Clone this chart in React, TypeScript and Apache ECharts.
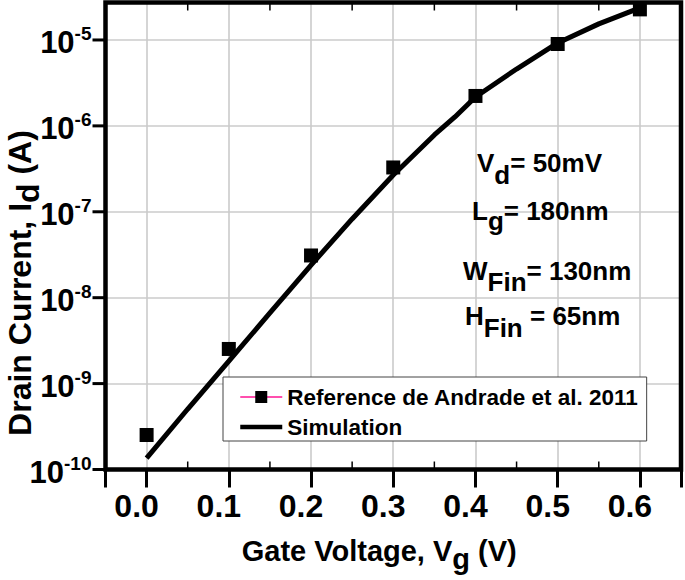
import React, { useEffect, useRef } from 'react';
import * as echarts from 'echarts';

// Reference data (de Andrade et al. 2011)
const vgRef = [0.0, 0.1, 0.2, 0.3, 0.4, 0.5, 0.6];
const idRef = [2.52e-10, 2.53e-9, 3.1e-8, 3.28e-7, 2.23e-6, 8.97e-6, 2.27e-5];

// Simulation curve
const vgSim = [0, 0.05, 0.1, 0.15, 0.2, 0.25, 0.3, 0.35, 0.375, 0.4, 0.45, 0.5, 0.55, 0.6];
const idSim = [1.36e-10, 5.06e-10, 1.83e-9, 6.64e-9, 2.4e-8, 8.25e-8, 2.68e-7, 7.84e-7, 1.27e-6, 2.17e-6, 4.59e-6, 9.23e-6, 1.54e-5, 2.36e-5];

// Tick labels / tick positions
const xTickLabels = ['0.0', '0.1', '0.2', '0.3', '0.4', '0.5', '0.6'];
const yTickExponents = [-10, -9, -8, -7, -6, -5];
const yMajorTicks = [1e-10, 1e-9, 1e-8, 1e-7, 1e-6, 1e-5];
const xMinorTicks = [0.05, 0.15, 0.25, 0.35, 0.45, 0.55];

// Series names
const REF_NAME = 'Reference de Andrade et al. 2011';
const SIM_NAME = 'Simulation';

// Annotation texts
const annMain = ['V', 'L', 'W', 'H'];
const annSub = ['d', 'g', 'Fin', 'Fin'];
const annRest = ['= 50mV', '= 180nm', '= 130nm', ' = 65nm'];

const FONT = '"Liberation Sans", Arial, Helvetica, sans-serif';

export default function App() {
  const ref = useRef<HTMLDivElement>(null);
  useEffect(() => {
    const chart = echarts.init(ref.current as HTMLDivElement, null, { renderer: 'svg' });

    const G_LEFT = 105.5;
    const G_RIGHT = 4;
    const G_TOP = 2.5;
    const G_BOTTOM = 110.5;
    const W = 685;
    const H = 580;

    const annX = [477, 472, 463, 465];
    const annY = [150, 198, 258, 303];
    const annShift = [12, 10, 11, 12];

    const X_MIN = -0.05;
    const X_MAX = 0.65;
    const Y_MIN = 1e-10;
    const Y_MAX = 2.73e-5;

    const xFmt = (v: number) => {
      const idx = Math.round(v * 10);
      if (Math.abs(v * 10 - idx) > 1e-6 || idx < 0 || idx >= xTickLabels.length) return '';
      return xTickLabels[idx];
    };
    const yFmt = (v: number) => {
      const e = Math.log10(v);
      const r = Math.round(e);
      if (Math.abs(e - r) > 1e-6 || yTickExponents.indexOf(r) < 0) return '';
      return '{b|10}{s|' + r + '}';
    };

    const gridLineStyle = { color: '#cbcbcb', width: 1.6, type: 'solid' };

    const option: any = {
      animation: false,
      textStyle: { fontFamily: FONT },
      grid: {
        show: false,
        containLabel: false,
        outerBoundsMode: 'none',
        left: G_LEFT,
        right: G_RIGHT,
        top: G_TOP,
        bottom: G_BOTTOM,
      },
      xAxis: {
        type: 'value',
        min: X_MIN,
        max: X_MAX,
        splitNumber: 7,
        position: 'bottom',
        axisLine: { show: false },
        axisTick: { show: true, length: 18, lineStyle: { color: '#000', width: 3 } },
        axisLabel: {
          margin: 20,
          fontSize: 32,
          fontWeight: 'bold',
          fontFamily: FONT,
          color: '#000',
          padding: [0, 20, 0, 0],
          formatter: xFmt,
        },
        splitLine: { show: true, lineStyle: gridLineStyle },
        name: '{t|Gate Voltage, V}{u|g}{t| (V)}',
        nameLocation: 'middle',
        nameGap: 67,
        nameMoveOverlap: false,
        nameTextStyle: {
          fontFamily: FONT,
          fontSize: 29,
          fontWeight: 'bold',
          color: '#000',
          padding: [0, 28, 0, 0],
          rich: {
            t: { fontFamily: FONT, fontSize: 29, fontWeight: 'bold', color: '#000', lineHeight: 30, verticalAlign: 'top' },
            u: { fontFamily: FONT, fontSize: 29, fontWeight: 'bold', color: '#000', lineHeight: 30, verticalAlign: 'top', padding: [8, 0, 0, 0] },
          },
        },
      },
      yAxis: {
        type: 'log',
        logBase: 10,
        min: Y_MIN,
        max: Y_MAX,
        position: 'left',
        axisLine: { show: false },
        axisTick: { show: false },
        axisLabel: {
          margin: 14,
          color: '#000',
          formatter: yFmt,
          rich: {
            b: { fontFamily: FONT, fontSize: 31, fontWeight: 'bold', color: '#000', lineHeight: 31, verticalAlign: 'top', padding: [3, 0, 0, 0] },
            s: { fontFamily: FONT, fontSize: 19, fontWeight: 'bold', color: '#000', lineHeight: 19, verticalAlign: 'top' },
          },
        },
        splitLine: { show: true, lineStyle: gridLineStyle },
        name: '{t|Drain Current, I}{u|d}{t| (A)}',
        nameLocation: 'middle',
        nameRotate: 90,
        nameGap: 70,
        nameMoveOverlap: false,
        nameTextStyle: {
          fontFamily: FONT,
          fontSize: 32,
          fontWeight: 'bold',
          color: '#000',
          padding: [0, 94, 0, 0],
          rich: {
            t: { fontFamily: FONT, fontSize: 32, fontWeight: 'bold', color: '#000', lineHeight: 32, verticalAlign: 'top' },
            u: { fontFamily: FONT, fontSize: 32, fontWeight: 'bold', color: '#000', lineHeight: 32, verticalAlign: 'top', padding: [8, 0, 0, 0] },
          },
        },
      },
      legend: {
        orient: 'vertical',
        left: 223,
        top: 377,
        padding: [7, 8, 1, 15],
        itemGap: 4,
        itemWidth: 42,
        itemHeight: 15,
        backgroundColor: '#fff',
        borderColor: '#444',
        borderWidth: 1,
        borderRadius: 0,
        textStyle: { fontFamily: FONT, fontSize: 22.5, fontWeight: 'bold', color: '#000', lineHeight: 26 },
        data: [
          { name: REF_NAME, lineStyle: { color: '#ff1493', width: 1.5, opacity: 1 }, itemStyle: { color: '#000', opacity: 1 } },
          { name: SIM_NAME, lineStyle: { color: '#000', width: 4.5, opacity: 1 }, itemStyle: { opacity: 0 } },
        ],
      },
      series: [
        {
          name: REF_NAME,
          type: 'line',
          data: vgRef.map((x, i) => [x, idRef[i]]),
          symbol: 'rect',
          symbolSize: 14,
          itemStyle: { color: '#000' },
          lineStyle: { width: 0, color: '#ff1493' },
          z: 3,
        },
        {
          name: SIM_NAME,
          type: 'line',
          data: vgSim.map((x, i) => [x, idSim[i]]),
          symbol: 'none',
          showSymbol: false,
          lineStyle: { color: '#000', width: 5 },
          itemStyle: { color: '#000' },
          z: 2,
        },
        {
          name: 'xMinorTicks',
          type: 'custom',
          silent: true,
          clip: false,
          z: 4,
          data: xMinorTicks.map((x) => [x, Y_MIN]),
          renderItem: (params: any, api: any) => {
            const x = api.value(0);
            const bottom = api.coord([x, Y_MIN]);
            const top = api.coord([x, Y_MAX]);
            const st = () => ({ stroke: '#000', lineWidth: 1.5 });
            return {
              type: 'group',
              children: [
                { type: 'line', shape: { x1: bottom[0], y1: bottom[1], x2: bottom[0], y2: bottom[1] - 8 }, style: st() },
                { type: 'line', shape: { x1: top[0], y1: top[1], x2: top[0], y2: top[1] + 8 }, style: st() },
              ],
            };
          },
        },
        {
          name: 'yMajorTicks',
          type: 'custom',
          silent: true,
          clip: false,
          z: 4,
          data: yMajorTicks.map((y) => [X_MIN, y]),
          renderItem: (params: any, api: any) => {
            const p = api.coord([X_MIN, api.value(1)]);
            return {
              type: 'line',
              shape: { x1: p[0], y1: p[1], x2: p[0] - 13, y2: p[1] },
              style: { stroke: '#000', lineWidth: 3 },
            };
          },
        },
      ],
      graphic: [
        {
          type: 'rect',
          z: 20,
          silent: true,
          shape: { x: G_LEFT, y: G_TOP, width: W - G_LEFT - G_RIGHT, height: H - G_TOP - G_BOTTOM },
          style: { fill: 'none', stroke: '#000', lineWidth: 4.5 },
        },
        ...annMain.map((m, i) => ({
          type: 'text',
          x: annX[i],
          y: annY[i],
          z: 10,
          style: {
            text: '{m|' + m + '}{s|' + annSub[i] + '}{m|' + annRest[i] + '}',
            fill: '#000',
            rich: {
              m: { fontFamily: FONT, fontSize: 26, fontWeight: 'bold', fill: '#000', lineHeight: 26, verticalAlign: 'top' },
              s: { fontFamily: FONT, fontSize: 26, fontWeight: 'bold', fill: '#000', lineHeight: 26, verticalAlign: 'top', padding: [annShift[i], 0, 0, 0] },
            },
          },
        })),
      ],
    };

    chart.setOption(option);
    return () => {
      chart.dispose();
    };
  }, []);

  return <div ref={ref} style={{ position: 'absolute', left: 0, top: 0, width: 685, height: 580, background: '#fff' }} />;
}
